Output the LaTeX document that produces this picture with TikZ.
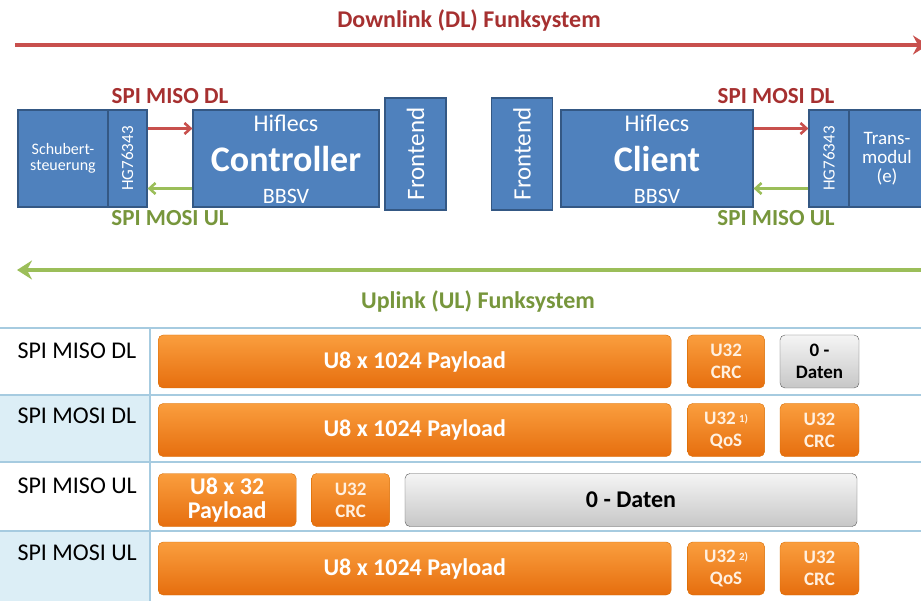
\documentclass[tikz,border=0pt]{standalone}
\usepackage{fontspec}
\setmainfont{Carlito}
\usetikzlibrary{arrows.meta,positioning}

\definecolor{dltext}{RGB}{166,48,48}
\definecolor{dlline}{RGB}{200,80,77}
\definecolor{ultext}{RGB}{119,150,60}
\definecolor{ulline}{RGB}{155,190,89}
\definecolor{blkfill}{RGB}{79,129,189}
\definecolor{blkdraw}{RGB}{52,88,132}
\definecolor{rowline}{RGB}{166,203,224}
\definecolor{rowfill}{RGB}{220,238,246}

\begin{document}
\begin{tikzpicture}[
    x=1pt, y=-1pt,
    fs/.style={font=\fontsize{#1}{#1}\selectfont},
    fsb/.style={font=\fontsize{#1}{#1}\selectfont\bfseries},
    blk/.style={draw=blkdraw, line width=1.2pt, fill=blkfill, text=white,
        inner sep=0pt, align=center},
    pay/.style={draw=orange!85!black, rounded corners=5pt, top color={rgb,255:red,250;green,158;blue,62},
        bottom color={rgb,255:red,230;green,110;blue,14}, text=white, inner sep=0pt,
        align=center, minimum height=53pt, font=\fontsize{24}{24}\selectfont\bfseries},
    crc/.style={pay, minimum width=77pt, text=orange!12, font=\fontsize{19}{22}\selectfont\bfseries},
    nul/.style={draw=black!65, top color=black!4, bottom color=black!22, text=black},
    dlarr/.style={draw=dlline, line width=2.6pt, -{Straight Barb[length=6pt,width=11pt]}},
    ularr/.style={draw=ulline, line width=2.6pt, -{Straight Barb[length=6pt,width=11pt]}},
    longarr/.style={line width=4pt, -{Stealth[length=15pt,width=19pt,inset=5pt]}},
    rowlab/.style={anchor=west, font=\fontsize{24}{24}\selectfont}
    ]
    \useasboundingbox (0,0) rectangle (921,601);

    % Funksystem arrows
    \node[fsb=24, text=dltext] (dltitle) at (469,20) {Downlink (DL) Funksystem};
    \coordinate (dlstart) at (15,45);
    \coordinate (dlend) at (928,45);
    \draw[longarr, draw=dlline, fill=dlline] (dlstart) -- (dlend);
    \coordinate (ulstart) at (921,270);
    \coordinate (ulend) at (17,270);
    \draw[longarr, draw=ulline, fill=ulline] (ulstart) -- (ulend);
    \node[fsb=24, text=ultext] (ultitle) at (478,301) {Uplink (UL) Funksystem};

    % left side
    \node[blk, minimum width=90pt, minimum height=97pt, fs=16] (schub) at (63,158.5) {Schubert-\\steuerung};
    \node[blk, minimum width=39pt, minimum height=97pt, fs=17] (hgl) at (127.5,158.5) {\rotatebox{90}{HG76343}};
    \node[blk, minimum width=186pt, minimum height=97pt] (ctrl) at (286,158.5) {};
    \node[fs=24, text=white] (ctrlh) at ([yshift=-14pt]ctrl.north) {Hiflecs};
    \node[fsb=36, text=white] (ctrlm) at ([yshift=-1pt]ctrl.center) {Controller};
    \node[fs=22, text=white] (ctrlb) at ([yshift=11pt]ctrl.south) {BBSV};
    \node[blk, minimum width=61pt, minimum height=112pt, fs=25] (fel) at (415.5,154) {\rotatebox{90}{Frontend}};
    \draw[dlarr] ([yshift=30pt]hgl.east) -- ([yshift=30pt]ctrl.west);
    \draw[ularr] ([yshift=-30pt]ctrl.west) -- ([yshift=-30pt]hgl.east);
    \node[fsb=23, text=dltext] (misodl) at (170,96) {SPI MISO DL};
    \node[fsb=23, text=ultext] (mosiul) at (170,218) {SPI MOSI UL};

    % right side
    \node[blk, minimum width=61pt, minimum height=112pt, fs=25] (fer) at (522,154) {\rotatebox{90}{Frontend}};
    \node[blk, minimum width=192pt, minimum height=97pt] (client) at (657,158.5) {};
    \node[fs=24, text=white] (clienth) at ([yshift=-14pt]client.north) {Hiflecs};
    \node[fsb=36, text=white] (clientm) at ([yshift=-1pt]client.center) {Client};
    \node[fs=22, text=white] (clientb) at ([yshift=11pt]client.south) {BBSV};
    \node[blk, minimum width=40pt, minimum height=97pt, fs=17] (hgr) at (829,158.5) {\rotatebox{90}{HG76343}};
    \node[blk, minimum width=76pt, minimum height=97pt, fs=19] (trans) at (887,158.5) {Trans-\\modul\\(e)};
    \draw[dlarr] ([yshift=30pt]client.east) -- ([yshift=30pt]hgr.west);
    \draw[ularr] ([yshift=-30pt]hgr.west) -- ([yshift=-30pt]client.east);
    \node[fsb=23, text=dltext] (mosidl) at (776,96) {SPI MOSI DL};
    \node[fsb=23, text=ultext] (misoul) at (776,218) {SPI MISO UL};

    % table
    \fill[rowfill] (0,395) rectangle (150,462);
    \fill[rowfill] (0,531) rectangle (150,601);
    \foreach \ry in {328,395,462,531}
        \draw[rowline, line width=1.5pt] (0,\ry) -- (921,\ry);
    \draw[rowline, line width=1.5pt] (150,328) -- (150,601);
    \node[rowlab] (lab1) at (14,351) {SPI MISO DL};
    \node[rowlab] (lab2) at (14,416) {SPI MOSI DL};
    \node[rowlab] (lab3) at (14,486) {SPI MISO UL};
    \node[rowlab] (lab4) at (14,553) {SPI MOSI UL};

    \node[pay, minimum width=513pt, anchor=west] (p1) at (158,361.5) {U8 x 1024 Payload};
    \node[crc, right=16pt of p1] (c1) {U32\\CRC};
    \node[crc, nul, right=15pt of c1, minimum width=79pt] (d1) {0 -\\Daten};

    \node[pay, minimum width=513pt, anchor=west] (p2) at (158,430) {U8 x 1024 Payload};
    \node[crc, right=16pt of p2] (q2) {U32\,{\fontsize{11}{11}\selectfont\raisebox{2pt}{1)}}\\QoS};
    \node[crc, right=15pt of q2, minimum width=79pt] (c2) {U32\\CRC};

    \node[pay, minimum width=138pt, anchor=west] (p3) at (158,500) {U8 x 32\\Payload};
    \node[crc, right=15pt of p3, minimum width=78pt] (c3) {U32\\CRC};
    \node[pay, nul, right=15pt of c3, minimum width=452pt] (d3) {0 - Daten};

    \node[pay, minimum width=513pt, anchor=west] (p4) at (158,568.5) {U8 x 1024 Payload};
    \node[crc, right=16pt of p4] (q4) {U32\,{\fontsize{11}{11}\selectfont\raisebox{2pt}{2)}}\\QoS};
    \node[crc, right=15pt of q4, minimum width=79pt] (c4) {U32\\CRC};
  \end{tikzpicture}
\end{document}
